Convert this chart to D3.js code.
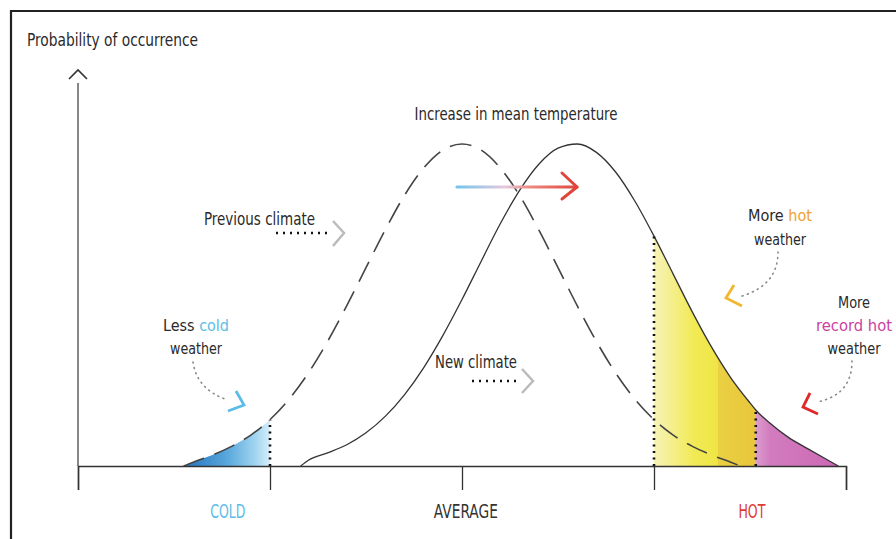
<!DOCTYPE html>
<html><head><meta charset="utf-8">
<script src="https://cdn.jsdelivr.net/npm/d3@7"></script>
<style>
html,body{margin:0;padding:0;background:#fff;}
svg{display:block;}
text{font-family:"DejaVu Sans Condensed","Liberation Sans Narrow",sans-serif;fill:#2a2a2a;}
</style></head>
<body><svg id="c" width="896" height="539"></svg>
<script>
// ---- data (temperature in standard units, probability relative to peak) ----
const axisTicks = [-2, -1, 0, 1, 2];
const categories = ["COLD", "AVERAGE", "HOT"];
const categoryPos = [-1.22, 0.02, 1.51];
const categoryColors = ["#5bbce8", "#333333", "#e03a30"];

const prevX = [-1.45,-1.4,-1.3,-1.2,-1.1,-1.0,-0.9,-0.8,-0.7,-0.6,-0.5,-0.4,-0.3,-0.2,-0.1,0,0.1,0.2,0.3,0.4,0.5,0.6,0.7,0.8,0.9,1.0,1.1,1.2,1.3,1.4,1.45];
const prevY = [0.0,0.012,0.034,0.061,0.096,0.144,0.208,0.289,0.387,0.498,0.616,0.733,0.840,0.925,0.981,1.0,0.981,0.925,0.840,0.733,0.616,0.498,0.387,0.289,0.208,0.144,0.096,0.061,0.034,0.012,0.0];

const newX = [-0.84,-0.8,-0.7,-0.6,-0.5,-0.4,-0.3,-0.2,-0.1,0,0.1,0.2,0.3,0.4,0.5,0.6,0.7,0.8,0.9,1.0,1.1,1.2,1.3,1.4,1.5,1.53,1.6,1.7,1.8,1.9,1.96];
const newY = [0.0,0.018,0.041,0.066,0.103,0.154,0.221,0.305,0.405,0.517,0.636,0.753,0.856,0.937,0.987,1.0,0.974,0.913,0.823,0.714,0.596,0.478,0.369,0.274,0.196,0.174,0.135,0.089,0.054,0.020,0.0];

const coldLimit = -1.0, hotLimit = 1.0, recordLimit = 1.53;

// ---- scales ----
const svg = d3.select("#c");
const x = d3.scaleLinear().domain([-2, 2]).range([78, 846]);
const y = d3.scaleLinear().domain([0, 1]).range([466, 144]);

const prev = prevX.map((v, i) => ({x: v, y: prevY[i]}));
const neu = newX.map((v, i) => ({x: v, y: newY[i]}));

const defs = svg.append("defs");
const gc = defs.append("linearGradient").attr("id", "gCold").attr("gradientUnits", "userSpaceOnUse")
  .attr("x1", x(-1.4)).attr("x2", x(coldLimit)).attr("y1", 0).attr("y2", 0);
[[0, "#2f7fc6"], [0.45, "#5aa8dc"], [0.8, "#9fd4f0"], [1, "#d6eefa"]].forEach(s =>
  gc.append("stop").attr("offset", s[0]).attr("stop-color", s[1]));
const x0 = x(hotLimit), x1 = x(1.96), span = x1 - x0;
const off = px => (px - x0) / span;
const gh = defs.append("linearGradient").attr("id", "gHot").attr("gradientUnits", "userSpaceOnUse")
  .attr("x1", x0).attr("x2", x1).attr("y1", 0).attr("y2", 0);
[[x0, "#f7f3b8"], [x0 + 40, "#f1ea55"], [718, "#efe545"], [718, "#ead043"], [x(recordLimit), "#e8c63c"],
 [x(recordLimit), "#dc9ccd"], [x(recordLimit) + 14, "#d27cbf"], [x1, "#cc68b4"]].forEach(s =>
  gh.append("stop").attr("offset", Math.max(0, Math.min(1, off(s[0])))).attr("stop-color", s[1]));
const ga = defs.append("linearGradient").attr("id", "gArrow").attr("gradientUnits", "userSpaceOnUse")
  .attr("x1", 457).attr("x2", 578).attr("y1", 0).attr("y2", 0);
[[0, "#74c4ec"], [0.4, "#e6c8dc"], [0.6, "#ec8a80"], [1, "#e0453a"]].forEach(s =>
  ga.append("stop").attr("offset", s[0]).attr("stop-color", s[1]));

// frame
svg.append("line").attr("x1", 11).attr("x2", 11).attr("y1", 10).attr("y2", 539).attr("stroke", "#222").attr("stroke-width", 2.2);
svg.append("line").attr("x1", 10).attr("x2", 896).attr("y1", 11).attr("y2", 11).attr("stroke", "#222").attr("stroke-width", 2.2);

// shaded areas
const area = d3.area().x(d => x(d.x)).y0(y(0)).y1(d => y(d.y)).curve(d3.curveMonotoneX);
svg.append("path").datum(prev.filter(d => d.x <= coldLimit)).attr("d", area).attr("fill", "url(#gCold)");
svg.append("path").datum(neu.filter(d => d.x >= hotLimit)).attr("d", area).attr("fill", "url(#gHot)");

// curves
const line = d3.line().x(d => x(d.x)).y(d => y(d.y)).curve(d3.curveMonotoneX);
svg.append("path").datum(neu).attr("d", line).attr("fill", "none").attr("stroke", "#333").attr("stroke-width", 1.3);
svg.append("path").datum(prev).attr("d", line).attr("fill", "none").attr("stroke", "#444")
  .attr("stroke-width", 1.6).attr("stroke-dasharray", "22,11");

// dotted limit lines
const limits = [[coldLimit, prevY[prevX.indexOf(coldLimit)]], [hotLimit, newY[newX.indexOf(hotLimit)]], [recordLimit, newY[newX.indexOf(recordLimit)]]];
svg.selectAll(".lim").data(limits).join("line").attr("class", "lim")
  .attr("x1", d => x(d[0])).attr("x2", d => x(d[0])).attr("y1", y(0)).attr("y2", d => y(d[1]))
  .attr("stroke", "#111").attr("stroke-width", 2.6).attr("stroke-dasharray", "2,4.5");

// axes
svg.append("line").attr("x1", x(-2)).attr("x2", x(-2)).attr("y1", 83).attr("y2", y(0)).attr("stroke", "#555").attr("stroke-width", 1.4);
svg.append("path").attr("d", "M69,79 L78,70 L87,79").attr("fill", "none").attr("stroke", "#333").attr("stroke-width", 1.6);
const xAxis = d3.axisBottom(x).tickValues(axisTicks).tickSize(24).tickFormat("");
const gx = svg.append("g").attr("transform", `translate(0,${y(0)})`).call(xAxis);
gx.select(".domain").attr("stroke", "#333").attr("stroke-width", 1.5);
gx.selectAll(".tick line").attr("stroke", "#333").attr("stroke-width", 1.3);

const catW = [35, 64, 27];
svg.selectAll(".cat").data(categories).join("text").attr("class", "cat")
  .attr("x", (d, i) => x(categoryPos[i])).attr("y", 518).attr("text-anchor", "middle")
  .attr("font-size", 20).attr("textLength", (d, i) => catW[i]).attr("lengthAdjust", "spacingAndGlyphs")
  .style("fill", (d, i) => categoryColors[i]).text(d => d);

function txt(xp, yp, s, w, anchor, size) {
  return svg.append("text").attr("x", xp).attr("y", yp).attr("font-size", size || 17)
    .attr("text-anchor", anchor || "start").attr("textLength", w).attr("lengthAdjust", "spacingAndGlyphs").text(s);
}
txt(27, 46, "Probability of occurrence", 171, "start", 18);
txt(516, 120, "Increase in mean temperature", 203, "middle", 18);

// mean-shift arrow
svg.append("line").attr("x1", 457).attr("x2", 577).attr("y1", 187).attr("y2", 187).attr("stroke", "url(#gArrow)").attr("stroke-width", 3.2).attr("stroke-linecap", "round");
svg.append("path").attr("d", "M562,173 L577,187 L562,199").attr("fill", "none").attr("stroke", "#e0453a").attr("stroke-width", 3).attr("stroke-linecap", "round").attr("stroke-linejoin", "round");

// climate labels
txt(204, 225, "Previous climate", 111);
svg.append("line").attr("x1", 276).attr("x2", 327).attr("y1", 233).attr("y2", 233).attr("stroke", "#111").attr("stroke-width", 2.4).attr("stroke-dasharray", "2,5");
svg.append("path").attr("d", "M333,221 L344,233 L333,246").attr("fill", "none").attr("stroke", "#bbb").attr("stroke-width", 2.5);
txt(435, 368, "New climate", 82);
svg.append("line").attr("x1", 472).attr("x2", 520).attr("y1", 381).attr("y2", 381).attr("stroke", "#111").attr("stroke-width", 2.4).attr("stroke-dasharray", "2,5");
svg.append("path").attr("d", "M522,369 L533,381 L522,393").attr("fill", "none").attr("stroke", "#bbb").attr("stroke-width", 2.5);

// annotations
function multi(xc, ys, parts, widths) {
  parts.forEach((row, i) => {
    const t = svg.append("text").attr("x", xc).attr("y", ys[i]).attr("text-anchor", "middle").attr("font-size", 16)
      .attr("textLength", widths[i]).attr("lengthAdjust", "spacingAndGlyphs");
    row.forEach(p => t.append("tspan").style("fill", p[1]).text(p[0]));
  });
}
multi(196, [331, 354], [[["Less ", "#2a2a2a"], ["cold", "#5bbce8"]], [["weather", "#2a2a2a"]]], [66, 52]);
multi(780, [221, 245], [[["More ", "#2a2a2a"], ["hot", "#f0a030"]], [["weather", "#2a2a2a"]]], [64, 52]);
multi(854, [308, 331, 354], [[["More", "#2a2a2a"]], [["record hot", "#cc3fa0"]], [["weather", "#2a2a2a"]]], [32, 76, 53]);

const dots = (d) => svg.append("path").attr("d", d).attr("fill", "none").attr("stroke", "#888").attr("stroke-width", 1.6).attr("stroke-dasharray", "1,4.5").attr("stroke-linecap", "round");
dots("M193,362 Q197,390 228,400");
svg.append("path").attr("d", "M236,391 L244,405 L228,411").attr("fill", "none").attr("stroke", "#5bbce8").attr("stroke-width", 2.8);
dots("M778,252 Q778,285 742,296");
svg.append("path").attr("d", "M734,285 L726,298 L742,306").attr("fill", "none").attr("stroke", "#f2b630").attr("stroke-width", 2.8);
dots("M852,361 Q852,395 817,402");
svg.append("path").attr("d", "M810,393 L803,407 L818,414").attr("fill", "none").attr("stroke", "#e02a2a").attr("stroke-width", 2.8);
</script></body></html>
